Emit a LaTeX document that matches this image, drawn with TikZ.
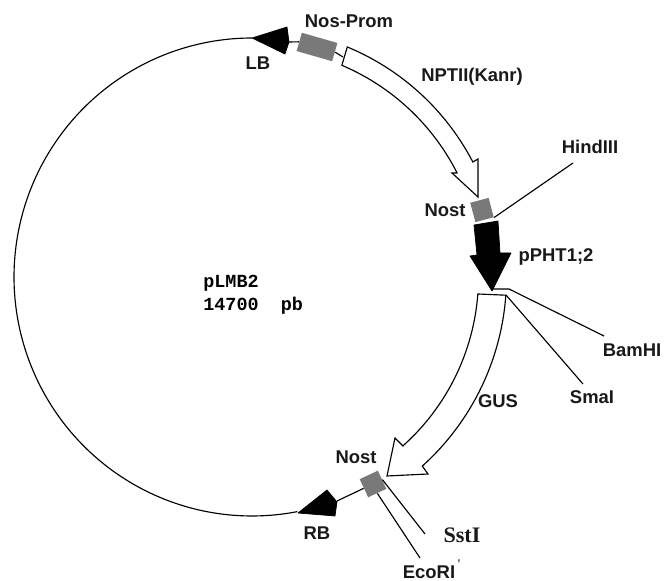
\documentclass[tikz,border=0pt]{standalone}
\usepackage{fontspec}
\setmainfont{Liberation Sans}
\newfontfamily\monofont{Liberation Mono}
\newfontfamily\timesfont{Liberation Serif}
\usetikzlibrary{positioning}

\begin{document}
\begin{tikzpicture}[
    x=0.02cm, y=-0.02cm,
    wire/.style={black, line width=0.65pt},
    genearrow/.style={draw=black, fill=white, line width=0.65pt, line join=miter},
    blackpart/.style={fill=black, draw=black, line width=0.4pt, line join=round},
    terminator/.style={fill=gray!95!black, draw=none, inner sep=0pt},
    label/.style={font=\fontsize{10.5}{12}\selectfont\bfseries, inner sep=0pt, text=black!90}
]
\useasboundingbox (0,0) rectangle (664,581);

% ============ BACKBONE ============
\draw[wire, domain=90:281, samples=200] plot ({252+238*cos(\x)}, {277-239*sin(\x)});

% ============ LEFT BORDER AND PROMOTER ============
\draw[blackpart] (252,38) -- (287,27) -- (289,42) -- (285,54) -- cycle;
\coordinate (lbend) at (289,42);
\node[terminator, minimum width=37*0.02cm, minimum height=19*0.02cm, rotate=-16] (nosprom) at (317,47) {};
\draw[wire] (lbend) -- (nosprom.west);
\coordinate (nptstart) at (343,57);
\draw[wire] (nosprom.east) -- (nptstart);
\node[label] (lblb) at (258,63) {LB};
\node[label] (lnosprom) at (349,21) {Nos-Prom};

% ============ NPTII ============
\draw[genearrow] plot[domain=67.5:27.5, samples=30] ({252+249*cos(\x)}, {277-249*sin(\x)})
    -- (478,159) -- (478,197) -- (452,173) -- (457,173)
    -- plot[domain=27:67, samples=30] ({252+230*cos(\x)}, {277-230*sin(\x)}) -- cycle;
\node[label] (lnpt) at (472,77) {NPTII(Kanr)};

% ============ NOST AND PPHT ============
\node[terminator, minimum width=19*0.02cm, minimum height=20*0.02cm, rotate=15] (nostone) at (482,210) {};
\node[label] (lnostone) at (445,210) {Nost};
\node[label] (lhind) at (590,147) {HindIII};
\coordinate (hindend) at (573,163);
\draw[wire] (nostone.south east) -- (hindend);
\draw[blackpart] (474,225) -- (498,221) -- (500,253) -- (511,253) -- (492,291) -- (470,256) -- (477,255) -- cycle;
\node[label] (lppht) at (556,257) {pPHT1;2};

% ============ GUS ============
\draw[genearrow] plot[domain=-4.1:-48, samples=30] ({252+254.5*cos(\x)}, {277-254.5*sin(\x)})
    -- (428,474) -- (387,476) -- (395,438) -- (403,446)
    -- plot[domain=-48:-4.3, samples=30] ({252+226.5*cos(\x)}, {277-226.5*sin(\x)}) -- cycle;
\node[label] (lgus) at (498,401) {GUS};

% Restriction sites next to GUS
\coordinate (bamstart) at (492,289);
\coordinate (bamknee) at (509,289);
\coordinate (smastart) at (506,295);
\node[label] (lbam) at (632,350) {BamHI};
\node[label] (lsma) at (592,397) {SmaI};
\coordinate (bamend) at (604,336);
\coordinate (smaend) at (583,384);
\draw[wire] (bamstart) -- (bamknee) -- (bamend);
\draw[wire] (smastart) -- (smaend);

% ============ RIGHT BORDER ============
\node[terminator, minimum width=20*0.02cm, minimum height=20*0.02cm, rotate=25] (nosttwo) at (373,484) {};
\node[label] (lnosttwo) at (356,457) {Nost};
\draw[blackpart] (298,513) -- (327,490) -- (337,502) -- (335,516) -- cycle;
\coordinate (rbend) at (337,501);
\draw[wire] (rbend) -- (nosttwo.west);
\node[label] (lrb) at (317,533) {RB};

% Sites below the second terminator
\coordinate (sstend) at (425,534);
\coordinate (ecoend) at (420,558);
\draw[wire] (nosttwo.east) -- (sstend);
\draw[wire] (nosttwo.south) -- (ecoend);
\node[label, font=\fontsize{12.6}{14}\timesfont\bfseries] (lsst) at (462,535) {SstI};
\node[label] (leco) at (429,572) {EcoRI};
\node[label, font=\fontsize{8}{8}\selectfont] (ltick) at (459,565) {'};

% ============ NAME ============
\node[font=\fontsize{10.5}{13}\monofont\bfseries, align=left, anchor=north west, inner sep=0pt] (lname) at (203,275) {pLMB2\\14700\ \ pb};

\end{tikzpicture}
\end{document}
